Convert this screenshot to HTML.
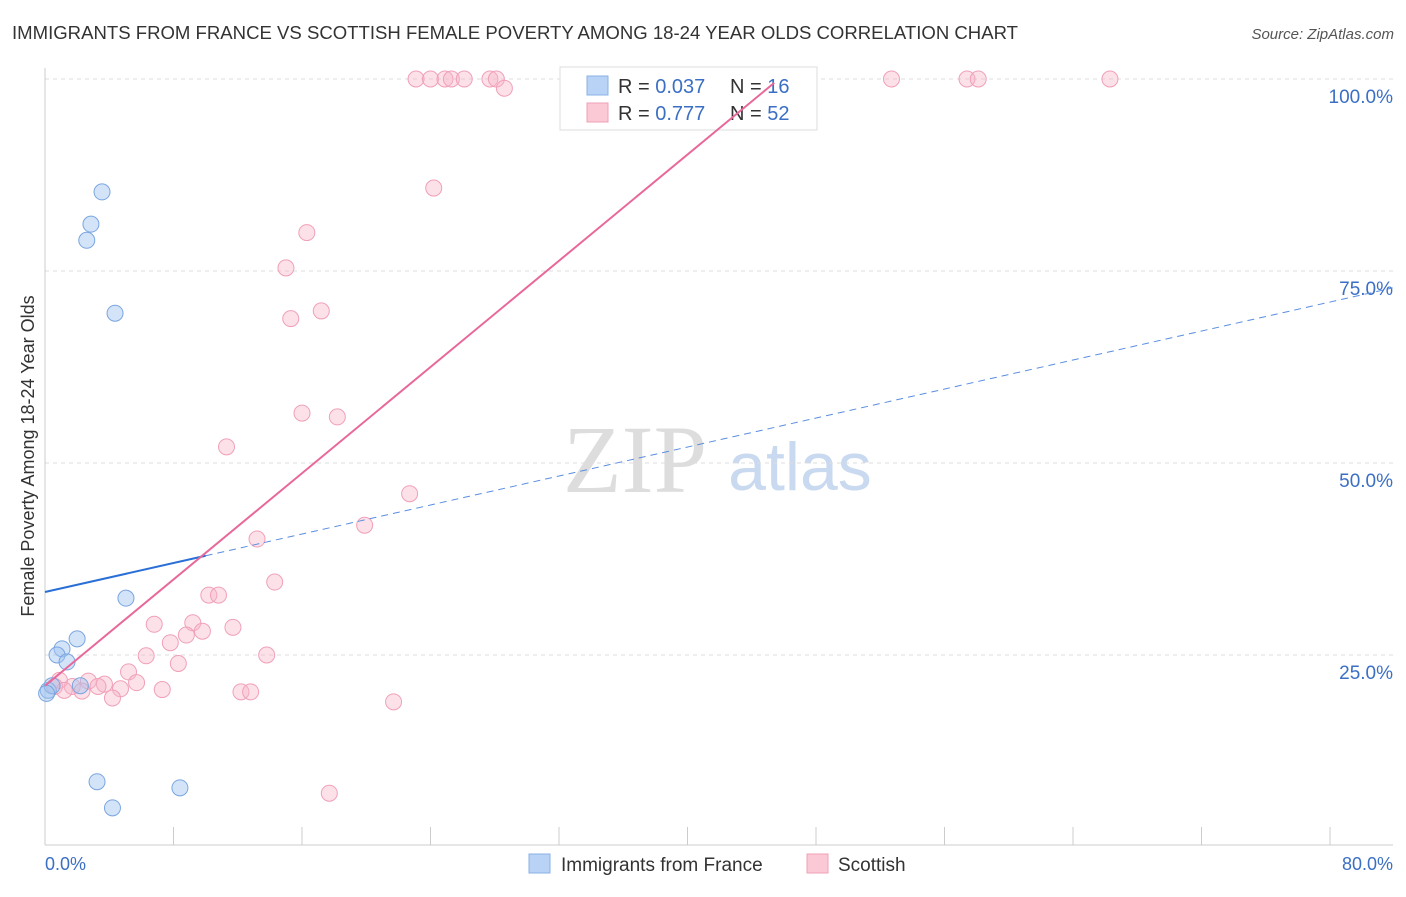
<!DOCTYPE html>
<html><head><meta charset="utf-8"><style>
body{margin:0;background:#fff;font-family:"Liberation Sans",sans-serif}
</style></head><body>
<svg id="c" width="1406" height="892" xmlns="http://www.w3.org/2000/svg" font-family="Liberation Sans, sans-serif">
<text x="12" y="39" font-size="18" fill="#333" textLength="1006" lengthAdjust="spacingAndGlyphs">IMMIGRANTS FROM FRANCE VS SCOTTISH FEMALE POVERTY AMONG 18-24 YEAR OLDS CORRELATION CHART</text>
<text x="1394" y="39" font-size="15" fill="#555" font-style="italic" text-anchor="end">Source: ZipAtlas.com</text>
<text x="635" y="492" font-size="96" fill="#ddd" font-family="Liberation Serif, serif" text-anchor="middle">ZIP</text>
<text x="800" y="490" font-size="68" fill="#c9d9f0" text-anchor="middle">atlas</text>
<g id="grid"></g>
<g id="axes"></g>
<g>
<rect x="560" y="67" width="257" height="63" fill="#fff" stroke="#ddd"/>
<rect x="587" y="76" width="21" height="19" fill="#b8d3f5" stroke="#8ab0e6"/>
<rect x="587" y="103" width="21" height="19" fill="#fbc8d6" stroke="#f0a0b8"/>
<text x="618" y="93" font-size="20" fill="#333">R = <tspan fill="#3b6fc4">0.037</tspan></text>
<text x="730" y="93" font-size="20" fill="#333">N = <tspan fill="#3b6fc4">16</tspan></text>
<text x="618" y="120" font-size="20" fill="#333">R = <tspan fill="#3b6fc4"> 0.777</tspan></text>
<text x="730" y="120" font-size="20" fill="#333">N = <tspan fill="#3b6fc4">52</tspan></text>
</g>
<g id="pts"></g>
<g id="lines"></g>
<text transform="translate(34,456) rotate(-90)" font-size="18" fill="#333" text-anchor="middle">Female Poverty Among 18-24 Year Olds</text>
<text x="45" y="870" font-size="18" fill="#3b6fc4">0.0%</text>
<text x="1393" y="870" font-size="18" fill="#3b6fc4" text-anchor="end">80.0%</text>
<g>
<rect x="529" y="854" width="21" height="19" fill="#b8d3f5" stroke="#8ab0e6"/>
<text x="561" y="871" font-size="19" fill="#333">Immigrants from France</text>
<rect x="807" y="854" width="21" height="19" fill="#fbc8d6" stroke="#f0a0b8"/>
<text x="838" y="871" font-size="19" fill="#333">Scottish</text>
</g>
</svg>
<script>
const yTicks=[25,50,75,100];
const yTickLabels=["25.0%","50.0%","75.0%","100.0%"];
const xTicks=[0,8,16,24,32,40,48,56,64,72,80];
const franceX=[3.55,2.86,2.6,4.36,5.04,2.0,1.06,0.75,1.37,0.2,0.44,2.2,3.24,4.2,8.4,0.1];
const franceY=[85.3,81.1,79.0,69.5,32.4,27.1,25.8,25.0,24.1,20.4,21.0,21.0,8.5,5.1,7.7,20.0];
const scotX=[23.1,24.0,24.9,25.3,26.1,27.7,28.1,28.6,52.7,57.4,58.1,66.3,24.2,16.3,15.0,15.3,17.2,16.0,18.2,11.3,22.7,19.9,13.2,14.3,10.2,10.8,6.8,9.2,8.8,9.8,11.7,7.8,13.8,6.3,8.3,5.2,5.7,2.7,3.7,4.7,7.3,3.3,4.2,1.7,2.3,0.9,0.6,1.2,12.2,12.8,21.7,17.7];
const scotY=[100,100,100,100,100,100,100,98.8,100,100,100,100,85.8,80.0,75.4,68.8,69.8,56.5,56.0,52.1,46.0,41.9,40.1,34.5,32.8,32.8,29.0,29.2,27.6,28.1,28.6,26.6,25.0,24.9,23.9,22.8,21.4,21.6,21.2,20.6,20.5,20.9,19.4,20.9,20.3,21.7,20.9,20.4,20.2,20.2,18.9,7.0];
const franceTrend=[0,33.2,83.9,72.8];
const scotTrend=[0,21.0,45.4,99.5];
const X=v=>45+v*1285/80, Y=v=>847-v*7.68;
const NS="http://www.w3.org/2000/svg";
function mk(p,t,a){const e=document.createElementNS(NS,t);for(const k in a)e.setAttribute(k,a[k]);document.getElementById(p).appendChild(e);return e;}
yTicks.forEach((v,i)=>{
 const g=mk('grid','line',{x1:45,x2:1393,y1:Y(v),y2:Y(v),stroke:'#ddd','stroke-dasharray':'4 4'});
 
 
 const t=mk('grid','text',{x:1393,y:Y(v)+24,'font-size':19,fill:'#3b6fc4','text-anchor':'end'});t.textContent=yTickLabels[i];
 
 
});
const ax=mk('axes','line',{x1:45,x2:45,y1:68,y2:845,stroke:'#ccc'});


const bx=mk('axes','line',{x1:45,x2:1393,y1:845,y2:845,stroke:'#ccc'});


xTicks.forEach(v=>{const t=mk('axes','line',{x1:X(v),x2:X(v),y1:827,y2:845,stroke:'#ccc'});
 
 });
scotX.forEach((v,i)=>{const c=mk('pts','circle',{cx:X(v),cy:Y(scotY[i]),r:8,fill:'rgba(248,180,200,0.4)',stroke:'#f0a0b8'});
 
 });
franceX.forEach((v,i)=>{const c=mk('pts','circle',{cx:X(v),cy:Y(franceY[i]),r:8,fill:'rgba(160,195,240,0.45)',stroke:'#7aa5e0'});
 
 });
const fy=v=>franceTrend[1]+(franceTrend[3]-franceTrend[1])*(v-franceTrend[0])/(franceTrend[2]-franceTrend[0]);
const l1=mk('lines','line',{x1:X(0),y1:Y(fy(0)),x2:X(10),y2:Y(fy(10)),stroke:'#2a6fd6','stroke-width':2});


const l2=mk('lines','line',{x1:X(10),y1:Y(fy(10)),x2:X(franceTrend[2]),y2:Y(franceTrend[3]),stroke:'#5a8ee0','stroke-width':1,'stroke-dasharray':'7 5'});


const l3=mk('lines','line',{x1:X(scotTrend[0]),y1:Y(scotTrend[1]),x2:X(scotTrend[2]),y2:Y(scotTrend[3]),stroke:'#e8689a','stroke-width':2});


</script>
</body></html>
